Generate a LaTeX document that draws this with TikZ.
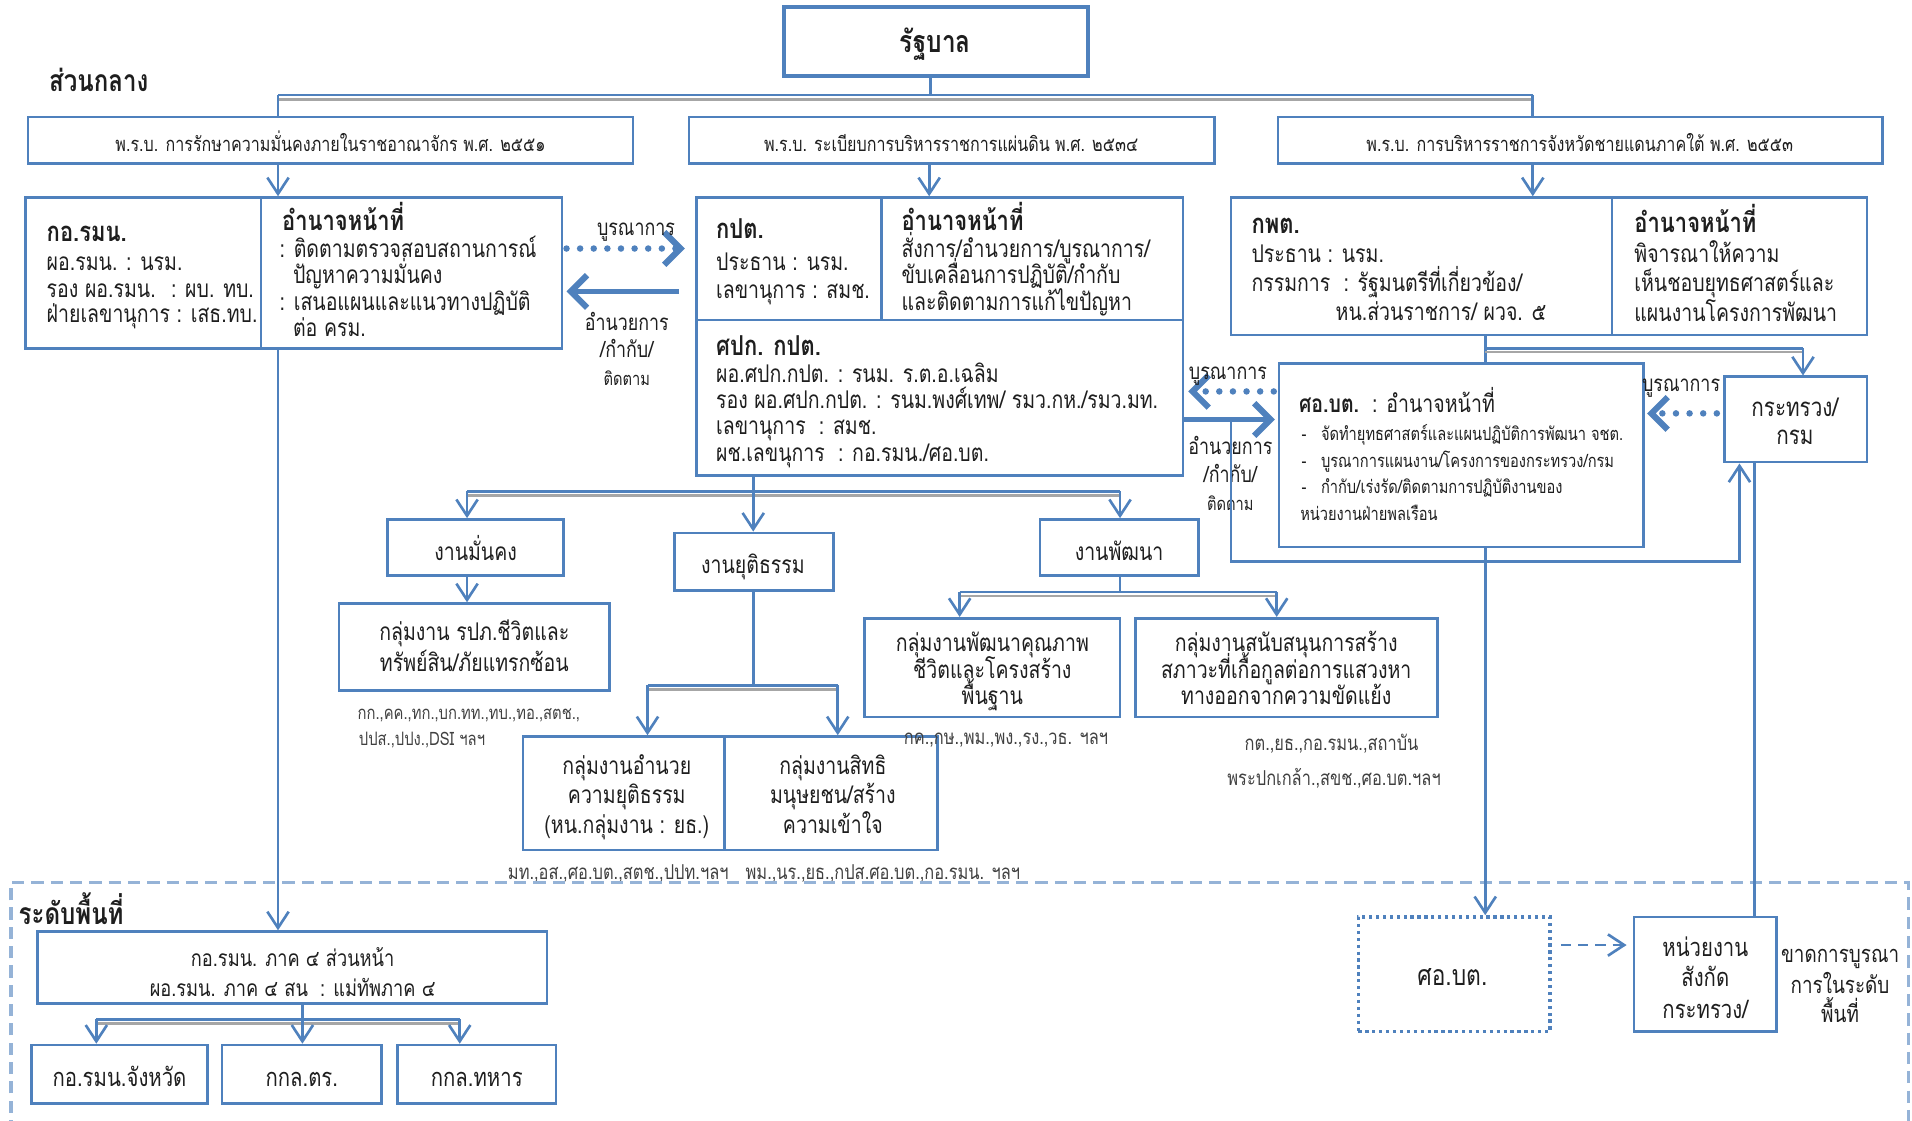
\documentclass[tikz,border=0pt]{standalone}
\usepackage{fontspec}
\setmainfont[Script=Thai,FakeStretch=0.8]{Loma}
\usetikzlibrary{arrows.meta,fit,calc}
\definecolor{bl}{HTML}{4F81BD}
\definecolor{lbl}{HTML}{95B3D7}
\definecolor{shd}{HTML}{A6A6A6}
\definecolor{ink}{HTML}{1E1E1E}
\newcommand\fA{\fontsize{12}{13.5}\selectfont}
\newcommand\fB{\fontsize{9.9}{12}\selectfont}
\newcommand\fC{\fontsize{9}{11}\selectfont}
\newcommand\fS{\fontsize{10.1}{12}\selectfont}
\newcommand\fL{\fontsize{11}{13}\selectfont}
\newcommand\fH{\fontsize{13.5}{15}\selectfont\bfseries}
\newcommand\tline[4][]{\node[tl,#1] (#2) at (#3) {#4};}
\newcommand\cln[4][]{\node[ctl,#1] (#2) at (#3) {#4};}
\begin{document}
\begin{tikzpicture}[x=0.6pt,y=-0.6pt,
  box/.style={draw=bl, line width=1.3pt, inner sep=0pt},
  conn/.style={draw=bl, line width=1.3pt},
  shdl/.style={draw=shd, line width=1.3pt},
  arr/.style={conn, -{Straight Barb[length=8pt,width=10.5pt,line width=1.3pt]}},
  dotarr/.style={draw=bl, line width=3.2pt, line cap=round, dash pattern=on 0pt off 6.7pt,
     -{Straight Barb[length=8pt,width=16pt,line width=3pt]}},
  bigarr/.style={draw=bl, line width=2.4pt, -{Straight Barb[length=8pt,width=16pt,line width=3pt]}},
  tl/.style={anchor=mid west, inner sep=0pt, font=\fA, text=ink, yshift=-1.8pt},
  ctl/.style={anchor=mid, inner sep=0pt, font=\fA, text=ink, yshift=-1.8pt},
  sm/.style={ctl, font=\fS, text=ink!85},
]
\useasboundingbox (0,0) rectangle (1568,919);

% ---------------- top
\node[box, line width=2pt, fit={(643,6)(892,62)}] (gov) {};
\cln[font=\fontsize{15}{17}\selectfont\bfseries]{govT}{767,35.5}{รัฐบาล}
\tline[font=\fontsize{14.8}{16}\selectfont\bfseries]{central}{40,68}{ส่วนกลาง}

\node[box, fit={(23,96)(519,134)}] (actL) {};
\node[box, fit={(565,96)(996,134)}] (actM) {};
\node[box, fit={(1048,96)(1544,134)}] (actR) {};
\cln[font=\fB]{actLT}{271,117}{พ.ร.บ. การรักษาความมั่นคงภายในราชอาณาจักร พ.ศ. ๒๕๕๑}
\cln[font=\fB]{actMT}{780,117}{พ.ร.บ. ระเบียบการบริหารราชการแผ่นดิน พ.ศ. ๒๕๓๔}
\cln[font=\fB]{actRT}{1295.5,117}{พ.ร.บ. การบริหารราชการจังหวัดชายแดนภาคใต้ พ.ศ. ๒๕๕๓}

\coordinate (xL) at (228,0);
\coordinate (xM) at (762,0);
\coordinate (xR) at (1257,0);
\coordinate (b1) at (228,78);
\coordinate (b0) at (763,78);
\coordinate (b2) at (1257,78);
\draw[shdl] ([yshift=-2pt]b1) -- ([yshift=-2pt]b2);
\draw[conn] (b1) -- (b2);
\draw[conn] (gov.south -| b0) -- (b0);
\draw[conn] (b1) -- (b1 |- actL.north);
\draw[conn] (b2) -- (b2 |- actR.north);

% ---------------- row 2 left
\node[box, fit={(21,162)(214,286)}] (kormn) {};
\node[box, fit={(214,162)(461,286)}] (kduty) {};
\tline[font=\fH]{kormnT}{38,191}{กอ.รมน.}
\tline{kormn1}{38,214.6}{ผอ.รมน. : นรม.}
\tline{kormn2}{38,236.5}{รอง ผอ.รมน. \ : ผบ. ทบ.}
\tline{kormn3}{38,257}{ฝ่ายเลขานุการ : เสธ.ทบ.}
\tline[font=\fH]{kdutyT}{231,182}{อำนาจหน้าที่}
\tline{kduty1}{229,203.8}{: ติดตามตรวจสอบสถานการณ์}
\tline{kduty2}{240,225.5}{ปัญหาความมั่นคง}
\tline{kduty3}{229,247.4}{: เสนอแผนและแนวทางปฏิบัติ}
\tline{kduty4}{240,269}{ต่อ ครม.}

% ---------------- row 2 middle
\node[box, fit={(571,162)(723,262.5)}] (kpt) {};
\node[box, fit={(723,162)(970,262.5)}] (kptd) {};
\node[box, fit={(571,262.5)(970,390)}] (spk) {};
\tline[font=\fH]{kptT}{587,188.6}{กปต.}
\tline{kpt1}{587,214.6}{ประธาน : นรม.}
\tline{kpt2}{587,237.8}{เลขานุการ : สมช.}
\tline[font=\fH]{kptdT}{739,182}{อำนาจหน้าที่}
\tline{kptd1}{739,203.8}{สั่งการ/อำนวยการ/บูรณาการ/}
\tline{kptd2}{739,225.5}{ขับเคลื่อนการปฏิบัติ/กำกับ}
\tline{kptd3}{739,247.4}{และติดตามการแก้ไขปัญหา}
\tline[font=\fH]{spkT}{587,284.3}{ศปก. กปต.}
\tline{spk1}{587,306}{ผอ.ศปก.กปต. : รนม. ร.ต.อ.เฉลิม}
\tline{spk2}{587,328}{รอง ผอ.ศปก.กปต. : รนม.พงศ์เทพ/ รมว.กห./รมว.มท.}
\tline{spk3}{587,349}{เลขานุการ \ : สมช.}
\tline{spk4}{587,371.5}{ผช.เลขนุการ \ : กอ.รมน./ศอ.บต.}

% ---------------- row 2 right
\node[box, fit={(1009.5,162)(1322,274.7)}] (kpht) {};
\node[box, fit={(1322,162)(1531,274.7)}] (kphtd) {};
\tline[font=\fH]{kphtT}{1026,184.5}{กพต.}
\tline{kpht1}{1026,208.3}{ประธาน : นรม.}
\tline{kpht2}{1026,232}{กรรมการ \ : รัฐมนตรีที่เกี่ยวข้อง/}
\tline{kpht3}{1095,255.8}{หน.ส่วนราชการ/ ผวจ. ๕}
\tline[font=\fH]{kphtdT}{1340,183}{อำนาจหน้าที่}
\tline{kphtd1}{1340,208}{พิจารณาให้ความ}
\tline{kphtd2}{1340,232}{เห็นชอบยุทธศาสตร์และ}
\tline{kphtd3}{1340,256}{แผนงานโครงการพัฒนา}

\draw[arr] (actL.south -| xL) -- (kduty.north -| xL);
\draw[arr] (actM.south -| xM) -- (kptd.north -| xM);
\draw[arr] (actR.south -| xR) -- (kpht.north -| xR);

% arrows kormn <-> kpt
\coordinate (y1) at (0,203.8);
\coordinate (y2) at (0,239);
\draw[dotarr, shorten <=1.5pt, shorten >=5pt] (kduty.east |- y1) -- (kpt.west |- y1);
\draw[bigarr, shorten <=7.8pt, shorten >=1.5pt] (kpt.west |- y2) -- (kduty.east |- y2);
\cln[font=\fL]{lb1}{521.6,186}{บูรณาการ}
\cln[font=\fL]{lb2}{514,264}{อำนวยการ}
\cln[font=\fL]{lb3}{514,286}{/กำกับ/}
\cln[font=\fC]{lb4}{514,309}{ติดตาม}

% ---------------- SOB box
\node[box, fit={(1049,298)(1348,448.5)}] (sob) {};
\tline{sobT}{1065,330.7}{\textbf{ศอ.บต.}\ \ : อำนาจหน้าที่}
\tline[font=\fC]{sob1}{1067,354}{-\hspace{0.8em}จัดทำยุทธศาสตร์และแผนปฏิบัติการพัฒนา จชต.}
\tline[font=\fC]{sob2}{1067,375.8}{-\hspace{0.8em}บูรณาการแผนงาน/โครงการของกระทรวง/กรม}
\tline[font=\fC]{sob3}{1067,397.7}{-\hspace{0.8em}กำกับ/เร่งรัด/ติดตามการปฏิบัติงานของ}
\tline[font=\fC]{sob4}{1066,419.6}{หน่วยงานฝ่ายพลเรือน}

\coordinate (y3) at (0,321);
\coordinate (y4) at (0,344);
\draw[dotarr, shorten <=2pt, shorten >=2pt] (sob.west |- y3) -- (spk.east |- y3);
\draw[bigarr, shorten >=1.5pt] (spk.east |- y4) -- (sob.west |- y4);
\cln[font=\fL]{lb5}{1007,303.5}{บูรณาการ}
\cln[font=\fL]{lb6}{1009,365}{อำนวยการ}
\cln[font=\fL]{lb7}{1009,388}{/กำกับ/}
\cln[font=\fC]{lb8}{1009,411}{ติดตาม}

% ministry
\node[box, fit={(1414,309)(1531,379)}] (min) {};
\cln[font=\fontsize{12.7}{14}\selectfont]{min1}{1472,334.6}{กระทรวง/}
\cln[font=\fontsize{12.7}{14}\selectfont]{min2}{1472,356.8}{กรม}
\coordinate (y5) at (0,339);
\draw[dotarr, shorten <=3pt, shorten >=1pt] (min.west |- y5) -- (sob.east |- y5);
\cln[font=\fL]{lb9}{1378.6,314}{บูรณาการ}

\coordinate (xS) at (1218,0);
\draw[conn] (kpht.south -| xS) -- (sob.north -| xS);
\coordinate (bS1) at (1218,285.6);
\coordinate (bS2) at (1478.6,285.6);
\draw[shdl] ([yshift=-1.8pt]bS1) -- ([yshift=-1.8pt]bS2);
\draw[conn] (bS1) -- (bS2);
\draw[arr] (bS2) -- (bS2 |- min.north);
\coordinate (lp1) at (1009.5,344);
\coordinate (lp2) at (1009.5,460.5);
\coordinate (lp3) at (1426.5,460.5);
\draw[arr] (lp1) -- (lp2) -- (lp3) -- (lp3 |- min.south);

% ---------------- row 3
\coordinate (b3a) at (383,403);
\coordinate (b3m) at (617.7,403);
\coordinate (b3b) at (918.5,403);
\draw[shdl] ([yshift=-2pt]b3a) -- ([yshift=-2pt]b3b);
\draw[conn] (b3a) -- (b3b);
\draw[conn] (spk.south -| b3m) -- (b3m);
\node[box, fit={(318,426)(462,472)}] (sec) {};
\node[box, fit={(553,437)(683.6,484)}] (jus) {};
\node[box, fit={(853,426)(983,472)}] (dev) {};
\cln{secT}{390,452}{งานมั่นคง}
\cln{jusT}{617.5,463}{งานยุติธรรม}
\cln{devT}{917.7,452}{งานพัฒนา}
\draw[arr] (b3a) -- (b3a |- sec.north);
\draw[arr] (b3m) -- (b3m |- jus.north);
\draw[arr] (b3b) -- (b3b |- dev.north);

% security group
\node[box, fit={(278,495)(499.6,566)}] (secg) {};
\cln{secg1}{389,518}{กลุ่มงาน รปภ.ชีวิตและ}
\cln{secg2}{389,543}{ทรัพย์สิน/ภัยแทรกซ้อน}
\draw[arr] (sec.south -| b3a) -- (secg.north -| b3a);
\cln[sm, font=\fontsize{9.1}{11}\selectfont]{secl1}{384.5,580}{กก.,คค.,ทก.,บก.ทท.,ทบ.,ทอ.,สตช.,}
\node[sm, font=\fontsize{9.1}{11}\selectfont, anchor=mid west] (secl2) at (294,604) {ปปส.,ปปง.,DSI ฯลฯ};

% justice groups
\coordinate (j1) at (531,562);
\coordinate (j2) at (687,562);
\coordinate (jm) at (617.7,562);
\draw[conn] (jus.south -| jm) -- (jm);
\draw[shdl] ([yshift=-2pt]j1) -- ([yshift=-2pt]j2);
\draw[conn] (j1) -- (j2);
\node[box, fit={(429,604)(594,697)}] (jus1) {};
\node[box, fit={(594,604)(768.6,697)}] (jus2) {};
\cln{jus1a}{514,627.5}{กลุ่มงานอำนวย}
\cln{jus1b}{514,652}{ความยุติธรรม}
\cln{jus1c}{514,676.6}{(หน.กลุ่มงาน : ยธ.)}
\cln{jus2a}{683,627.5}{กลุ่มงานสิทธิ}
\cln{jus2b}{683,652}{มนุษยชน/สร้าง}
\cln{jus2c}{683,676.6}{ความเข้าใจ}
\draw[arr] (j1) -- (j1 |- jus1.north);
\draw[arr] (j2) -- (j2 |- jus2.north);
\cln[sm]{jl1}{507,711}{มท.,อส.,ศอ.บต.,สตช.,ปปท.ฯลฯ}
\cln[sm]{jl2}{724,711}{พม.,นร.,ยธ.,กปส.ศอ.บต.,กอ.รมน. ฯลฯ}

% development groups
\coordinate (d1) at (787,485.5);
\coordinate (d2) at (1047,485.5);
\coordinate (dm) at (918.5,485.5);
\draw[conn] (dev.south -| dm) -- (dm);
\draw[shdl] ([yshift=-2pt]d1) -- ([yshift=-2pt]d2);
\draw[conn] (d1) -- (d2);
\node[box, fit={(709,507)(918.6,588)}] (dev1) {};
\node[box, fit={(931,507)(1178.6,588)}] (dev2) {};
\cln{dev1a}{813.8,527}{กลุ่มงานพัฒนาคุณภาพ}
\cln{dev1b}{813.8,549}{ชีวิตและโครงสร้าง}
\cln{dev1c}{813.8,570}{พื้นฐาน}
\cln{dev2a}{1054.8,527}{กลุ่มงานสนับสนุนการสร้าง}
\cln{dev2b}{1054.8,549}{สภาวะที่เกื้อกูลต่อการแสวงหา}
\cln{dev2c}{1054.8,570}{ทางออกจากความขัดแย้ง}
\draw[arr] (d1) -- (d1 |- dev1.north);
\draw[arr] (d2) -- (d2 |- dev2.north);
\cln[sm]{dl1}{825,600}{กค.,กษ.,พม.,พง.,รง.,วธ. ฯลฯ}
\cln[sm]{dl2}{1092,605}{กต.,ยธ.,กอ.รมน.,สถาบัน}
\cln[sm]{dl3}{1094,634}{พระปกเกล้า.,สขช.,ศอ.บต.ฯลฯ}

% ---------------- local level
\draw[lbl, line width=1.6pt, dash pattern=on 6pt off 3.5pt] (9,960) -- (9,723.5) -- (1565,723.5) -- (1565,960);
\tline[font=\fontsize{14.8}{16}\selectfont\bfseries]{area}{15,751}{ระดับพื้นที่}
\node[box, fit={(31,764)(448.5,823)}] (reg) {};
\cln[font=\fontsize{11.2}{13}\selectfont]{reg1}{240,785}{กอ.รมน. ภาค ๔ ส่วนหน้า}
\cln[font=\fontsize{11.2}{13}\selectfont]{reg2}{240,810}{ผอ.รมน. ภาค ๔ สน \ : แม่ทัพภาค ๔}
\draw[arr] (kduty.south -| xL) -- (reg.north -| xL);
\coordinate (r1) at (79,836);
\coordinate (rm) at (248,836);
\coordinate (r2) at (377,836);
\draw[conn] (reg.south -| rm) -- (rm);
\draw[shdl] ([yshift=-2pt]r1) -- ([yshift=-2pt]r2);
\draw[conn] (r1) -- (r2);
\node[box, fit={(26,857)(170,905)}] (prov) {};
\node[box, fit={(182,857)(313,905)}] (pol) {};
\node[box, fit={(326,857)(456,905)}] (mil) {};
\cln[font=\fontsize{12.5}{14}\selectfont]{provT}{98,884}{กอ.รมน.จังหวัด}
\cln[font=\fontsize{12.5}{14}\selectfont]{polT}{247.5,884}{กกล.ตร.}
\cln[font=\fontsize{12.5}{14}\selectfont]{milT}{391,884}{กกล.ทหาร}
\draw[arr] (r1) -- (r1 |- prov.north);
\draw[arr] (rm) -- (rm |- pol.north);
\draw[arr] (r2) -- (r2 |- mil.north);

\node[box, line width=1.8pt, dash pattern=on 1.6pt off 1.8pt, fit={(1114,752)(1271,846)}] (sobl) {};
\cln[font=\fontsize{14}{16}\selectfont]{soblT}{1191,801}{ศอ.บต.}
\draw[arr] (sob.south -| xS) -- (sobl.north -| xS);
\node[box, fit={(1340,752)(1457,846)}] (unit) {};
\cln[font=\fontsize{12.5}{14}\selectfont]{unit1}{1398.5,777}{หน่วยงาน}
\cln[font=\fontsize{12.5}{14}\selectfont]{unit2}{1398.5,802}{สังกัด}
\cln[font=\fontsize{12.5}{14}\selectfont]{unit3}{1398.5,828}{กระทรวง/}
\coordinate (xU) at (1439,0);
\draw[conn] (min.south -| xU) -- (unit.north -| xU);
\coordinate (y6) at (0,775);
\draw[arr, dash pattern=on 5pt off 3.5pt, shorten <=4.5pt, shorten >=3pt] (sobl.east |- y6) -- (unit.west |- y6);
\cln[font=\fontsize{11.6}{14}\selectfont]{lack1}{1509,782}{ขาดการบูรณา}
\cln[font=\fontsize{11.6}{14}\selectfont]{lack2}{1509,807}{การในระดับ}
\cln[font=\fontsize{11.6}{14}\selectfont]{lack3}{1509,831}{พื้นที่}
\end{tikzpicture}
\end{document}
